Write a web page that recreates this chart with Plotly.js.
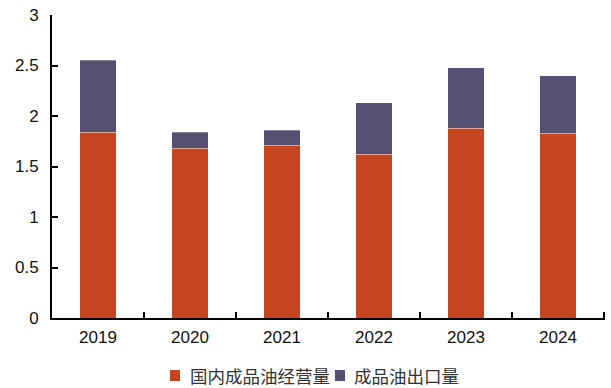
<!DOCTYPE html>
<html>
<head>
<meta charset="utf-8">
<script src="https://cdn.plot.ly/plotly-3.0.1.min.js"></script>
<style>
  html, body { margin: 0; padding: 0; background: #fff; }
  #chart { width: 611px; height: 388px; }
</style>
</head>
<body>
<div id="chart"></div>
<script>
// Years on the category axis
const years = ['2019', '2020', '2021', '2022', '2023', '2024'];
// Domestic refined-oil sales volume (stacked bottom)
const domestic = [1.84, 1.68, 1.71, 1.62, 1.88, 1.83];
// Refined-oil export volume (stacked top)
const exportVol = [0.71, 0.16, 0.15, 0.51, 0.60, 0.57];
// Series names and colours
const seriesNames = ['国内成品油经营量', '成品油出口量'];
const seriesColors = ['#C54521', '#545072'];
// Y axis ticks
const yTicks = [0, 0.5, 1, 1.5, 2, 2.5, 3];
const yTickText = ['0', '0.5', '1', '1.5', '2', '2.5', '3'];

const edge = { color: 'rgba(255,255,255,0.3)', width: 1 };

const traces = [domestic, exportVol].map((vals, i) => ({
  type: 'bar', name: seriesNames[i], x: years, y: vals,
  marker: { color: seriesColors[i], line: edge }, width: 0.4
}));

const tickFont = { family: 'Liberation Sans, Arial, sans-serif', size: 17, color: '#111' };

// Compact legend below the plot: a square swatch followed by the series name
const legendSpots = [{ sq: 0.2134, tx: 0.2459 }, { sq: 0.5118, tx: 0.5425 }];
const legendShapes = legendSpots.map((p, i) => ({
  type: 'rect', xref: 'paper', yref: 'paper',
  x0: p.sq, x1: p.sq + 0.0181, y0: -0.208, y1: -0.1716,
  fillcolor: seriesColors[i], line: { width: 0 }
}));
const legendLabels = legendSpots.map((p, i) => ({
  xref: 'paper', yref: 'paper', x: p.tx, y: -0.19,
  xanchor: 'left', yanchor: 'middle', showarrow: false,
  text: seriesNames[i],
  font: { family: 'Noto Sans CJK SC, sans-serif', size: 17.5, color: '#333' }
}));

// Small upward ticks separating the categories on the x axis
const catTicks = [1, 2, 3, 4, 5, 6].map(i => ({
  type: 'line', xref: 'x', yref: 'paper',
  x0: i - 0.5, x1: i - 0.5, y0: 0, y1: 0.02,
  line: { color: '#000', width: 2 }
}));

const layout = {
  width: 611, height: 388,
  margin: { l: 52, r: 6, t: 15, b: 70, autoexpand: false },
  barmode: 'stack',
  bargap: 0.6,
  paper_bgcolor: '#fff', plot_bgcolor: '#fff',
  showlegend: false,
  xaxis: {
    type: 'category', showgrid: false, zeroline: false,
    showline: true, linecolor: '#000', linewidth: 2,
    ticks: '', tickfont: tickFont, ticklabelstandoff: 3
  },
  yaxis: {
    range: [0, 3], tickvals: yTicks, ticktext: yTickText,
    showgrid: false, zeroline: false,
    showline: true, linecolor: '#000', linewidth: 2,
    ticks: 'inside', ticklen: 6, tickwidth: 2, tickcolor: '#000',
    tickfont: tickFont, ticklabelstandoff: 8
  },
  shapes: catTicks.concat(legendShapes),
  annotations: legendLabels
};

Plotly.newPlot('chart', traces, layout, { displayModeBar: false, staticPlot: true });
</script>
</body>
</html>
